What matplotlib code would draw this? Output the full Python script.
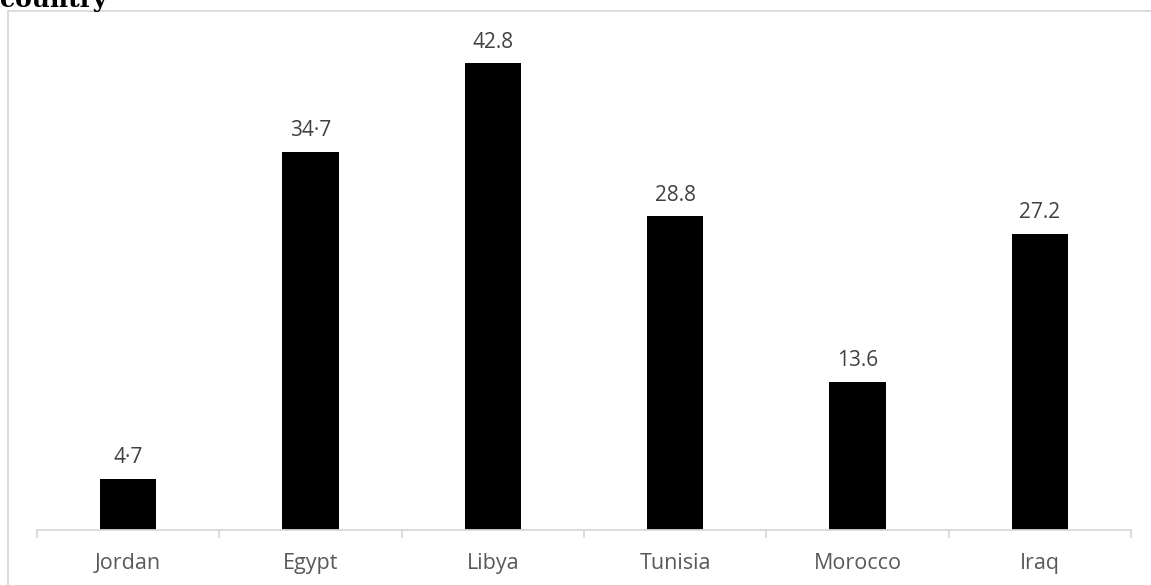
import matplotlib
matplotlib.use("Agg")
import matplotlib.pyplot as plt
import numpy as np
from matplotlib.patches import Rectangle

# 各国数值
countries = ["Jordan", "Egypt", "Libya", "Tunisia", "Morocco", "Iraq"]
values = [4.7, 34.7, 42.8, 28.8, 13.6, 27.2]
value_labels = ["4·7", "34·7", "42.8", "28.8", "13.6", "27.2"]

W, H = 1151, 585
fig = plt.figure(figsize=(W / 100, H / 100), dpi=100)

# 外框
fig.patches.append(Rectangle((8 / W, -0.05), 1.2, 1 - 10.5 / H + 0.05,
                             transform=fig.transFigure, fill=False,
                             edgecolor="#d9d9d9", linewidth=1.3, zorder=0))
fig.text(0.0, 1 - 7 / H, "country", family="DejaVu Serif",
         fontweight="bold", fontsize=18, va="baseline", ha="left")

ax = fig.add_axes([37 / W, 55 / H, (1131 - 37) / W, (530 - 39.5) / H])
x = np.arange(len(countries))
ax.bar(x, values, width=0.31, color="black")
ax.set_xlim(-0.5, len(countries) - 0.5)
ax.set_ylim(0, 45)

for xi, v, lab in zip(x, values, value_labels):
    ax.annotate(lab, (xi, v), xytext=(0, 11), textcoords="offset points",
                ha="center", va="baseline", fontsize=15, color="#404040",
                family="Open Sans")

for s in ["top", "right", "left"]:
    ax.spines[s].set_visible(False)
ax.spines["bottom"].set_color("#d9d9d9")
ax.spines["bottom"].set_linewidth(1.3)
ax.set_yticks([])
ax.set_xticks(x)
ax.set_xticklabels(countries, fontsize=15.5, color="#595959", family="Open Sans")
ax.tick_params(axis="x", which="major", length=0, pad=16.5)
ax.set_xticks(np.arange(len(countries) + 1) - 0.5, minor=True)
ax.tick_params(axis="x", which="minor", length=6, color="#d9d9d9", width=1.3)

fig.savefig("out.png", dpi=100)
